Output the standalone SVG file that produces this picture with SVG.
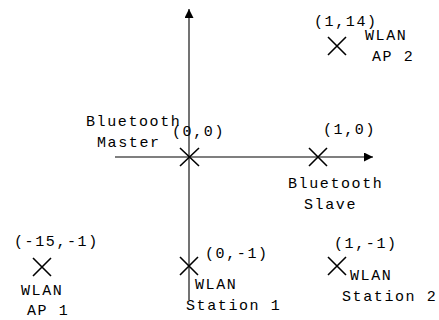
<svg xmlns="http://www.w3.org/2000/svg" width="439" height="320" viewBox="0 0 439 320">
<style>
text{font-family:"Liberation Mono","Courier New",monospace;font-size:15px;letter-spacing:1.6px;fill:#000}
.x{stroke:#000;stroke-width:1.6;fill:none}
</style>
<defs>
<marker id="ah" viewBox="0 0 10 10" refX="10" refY="5" markerWidth="9" markerHeight="9" markerUnits="userSpaceOnUse" orient="auto"><path d="M0,0 L10,5 L0,10 Z" fill="#000"/></marker>
</defs>
<rect width="439" height="320" fill="#fff"/>
<g id="connectors">
<line x1="189" y1="300" x2="189" y2="9" stroke="#444" stroke-width="1.5" marker-end="url(#ah)"/>
<line x1="115" y1="157" x2="373" y2="157" stroke="#000" stroke-width="1.2" marker-end="url(#ah)"/>
</g>
<g id="master">
<path class="x" d="M180,148 L199,166 M199,148 L180,166"/>
<text x="86" y="126">Bluetooth</text>
<text x="97" y="147">Master</text>
<text x="172" y="136">(0,0)</text>
</g>
<g id="slave">
<path class="x" d="M309,148 L327,166 M327,148 L309,166"/>
<text x="323" y="134">(1,0)</text>
<text x="288" y="188">Bluetooth</text>
<text x="304" y="209">Slave</text>
</g>
<g id="ap2">
<path class="x" d="M328,37 L346,55 M346,37 L328,55"/>
<text x="314" y="26">(1,14)</text>
<text x="365" y="40">WLAN</text>
<text x="372" y="61">AP 2</text>
</g>
<g id="ap1">
<path class="x" d="M33,258 L51,276 M51,258 L33,276"/>
<text x="14" y="246">(-15,-1)</text>
<text x="21" y="295">WLAN</text>
<text x="27" y="315">AP 1</text>
</g>
<g id="station1">
<path class="x" d="M180,257 L198,275 M198,257 L180,275"/>
<text x="205" y="258">(0,-1)</text>
<text x="195" y="289">WLAN</text>
<text x="186" y="310">Station 1</text>
</g>
<g id="station2">
<path class="x" d="M328,257 L346,275 M346,257 L328,275"/>
<text x="334" y="248">(1,-1)</text>
<text x="350" y="280">WLAN</text>
<text x="342" y="301">Station 2</text>
</g>
</svg>
